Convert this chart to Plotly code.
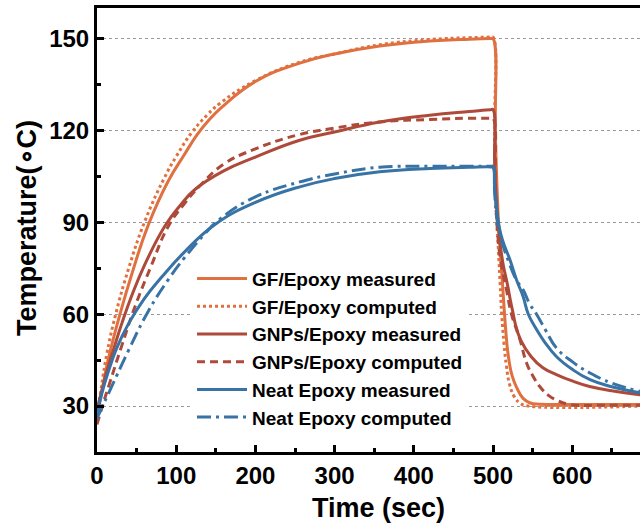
import plotly.graph_objects as go

# ---------------- data ----------------
gf_meas_t = [0, 7, 14, 29, 45, 65, 90, 110, 126, 140, 158, 200, 256, 300, 357, 420, 470, 497, 500,
             503, 506, 508, 511, 513, 516, 519, 524, 530, 538, 547, 560, 600, 686]
gf_meas_T = [27, 36, 45, 60, 74, 89.3, 103.5, 112, 118.5, 123, 127.7, 136, 142, 145, 147.6, 149.2, 149.8, 150, 150,
             118, 95, 85, 74, 66, 55, 47, 40, 36, 32.5, 31, 30.6, 30.5, 30.5]

gf_comp_t = [0, 6, 12, 23.6, 40, 60.6, 85, 100, 119.6, 140, 155, 200, 256, 300, 357, 420, 470, 497, 500,
             502, 504, 507, 509, 511, 514, 517, 521, 527, 535, 545, 686]
gf_comp_T = [26, 37, 46.5, 60, 75, 90.5, 104.5, 111.5, 119.3, 125.3, 128.8, 136.3, 142.3, 145, 148, 149.7, 150.3, 150.5, 150.5,
             118, 95, 80, 70, 60, 50, 43, 37, 33, 30.8, 30, 30]

gnp_meas_t = [0, 6, 12, 22.7, 32, 43.8, 60, 85, 105, 124, 160, 200, 256, 300, 357, 420, 470, 497, 500,
              502, 504, 506, 509, 513, 518, 522, 525.6, 528, 535, 548, 563, 580, 600, 622, 650, 686]
gnp_meas_T = [29, 35, 41, 50, 57.5, 66, 76, 88.5, 95.5, 100.8, 106.8, 111.3, 116.8, 119.5, 122.8, 125, 126.2, 126.8, 126.8,
              110, 98, 90.5, 83, 76, 70, 64.5, 60, 57, 51.5, 46.2, 42.5, 40.3, 38.2, 36.4, 35, 33.7]

gnp_comp_t = [0, 8, 16, 31, 48, 68, 89.6, 110, 132, 160, 200, 256, 300, 357, 420, 470, 497, 500,
              503, 506, 510, 517, 523.6, 534, 542.5, 550, 559, 570, 580, 597, 640, 686]
gnp_comp_T = [24, 31, 37.5, 49.5, 62.5, 75.5, 88.5, 96, 102.5, 109, 114, 118.7, 120.8, 122.8, 123.6, 124, 124, 124,
              100, 86, 77, 68, 59.8, 51.7, 44, 40, 36.4, 33.5, 32, 30.5, 30.3, 30.3]

neat_meas_t = [0, 6, 14, 25, 40, 60, 82, 110, 149, 200, 256, 300, 357, 420, 470, 497, 500,
               502, 504, 506.7, 510, 515, 521.5, 530, 538, 544.6, 555, 565, 580, 600, 622.5, 650, 686]
neat_meas_T = [27, 34, 41, 49, 57, 65.2, 72.2, 80.2, 89.3, 96.5, 101.6, 104.3, 106.5, 107.6, 108, 108.1, 108,
               102, 96, 90.2, 86, 82, 77.7, 71, 65.8, 60, 55, 51, 46.2, 42, 38.6, 36.3, 34.3]

neat_comp_t = [0, 7, 14.3, 25, 39.5, 64.8, 90, 110, 136, 155, 200, 256, 300, 357, 420, 470, 497, 500,
               502, 504, 507, 512, 520, 530, 538, 546, 555, 567, 580, 600, 622.5, 650, 686]
neat_comp_T = [26, 30, 34, 40, 48, 61, 71.3, 78.3, 86.2, 91, 98.3, 103.2, 105.8, 108, 108.3, 108.3, 108.3, 108.3,
               100, 93, 88, 83, 77, 71, 68, 63.5, 60, 54.5, 49, 44.5, 40.8, 37.5, 34.8]

series_names = ["GF/Epoxy measured", "GF/Epoxy computed",
                "GNPs/Epoxy measured", "GNPs/Epoxy computed",
                "Neat Epoxy measured", "Neat Epoxy computed"]

x_tick_vals = [0, 100, 200, 300, 400, 500, 600]
y_tick_vals = [30, 60, 90, 120, 150]

# ---------------- styling ----------------
C_GF = "#E0703F"
C_GNP = "#AE4A3A"
C_NEAT = "#3873A6"
FONT = "Arial, Liberation Sans, sans-serif"

series = [
    (gf_meas_t, gf_meas_T, C_GF, "solid"),
    (gf_comp_t, gf_comp_T, C_GF, "dot"),
    (gnp_meas_t, gnp_meas_T, C_GNP, "solid"),
    (gnp_comp_t, gnp_comp_T, C_GNP, "8px,5px"),
    (neat_meas_t, neat_meas_T, C_NEAT, "solid"),
    (neat_comp_t, neat_comp_T, C_NEAT, "14px,5px,3px,5px"),
]

fig = go.Figure()
for name, (tx, ty, col, dash) in zip(series_names, series):
    fig.add_trace(go.Scatter(
        x=tx, y=ty, mode="lines", name=name,
        line=dict(color=col, width=3, dash=dash, shape="spline", smoothing=1.3),
    ))

axis_font = dict(family=FONT, size=24, color="black", weight="bold")

fig.update_layout(
    width=640, height=525,
    margin=dict(l=97, r=0, t=8, b=73),
    paper_bgcolor="white", plot_bgcolor="white",
    showlegend=True,
    legend=dict(
        x=0.175, y=0.433, xanchor="left", yanchor="top",
        bgcolor="white", borderwidth=0,
        font=dict(family=FONT, size=19, color="black", weight="bold"),
        itemwidth=50, tracegroupgap=0,
    ),
    xaxis=dict(
        range=[0, 685.6], tickvals=x_tick_vals,
        showline=True, linecolor="black", linewidth=3, mirror=True,
        ticks="inside", ticklen=7, tickwidth=2.5, tickcolor="black",
        minor=dict(ticks="inside", ticklen=4, tickwidth=2.5, tickcolor="black", dtick=50, tick0=0),
        showgrid=False, zeroline=False,
        tickfont=axis_font,
    ),
    yaxis=dict(
        range=[15, 160], tickvals=y_tick_vals,
        showline=True, linecolor="black", linewidth=3,
        ticks="inside", ticklen=7, tickwidth=2.5, tickcolor="black",
        minor=dict(ticks="inside", ticklen=4, tickwidth=2.5, tickcolor="black", dtick=15, tick0=0),
        showgrid=True, gridcolor="#999999", gridwidth=1, griddash="dot",
        zeroline=False,
        tickfont=axis_font,
    ),
    annotations=[
        dict(text="Time (sec)", xref="paper", yref="paper", x=0.519, y=-0.126,
             xanchor="center", yanchor="middle", showarrow=False,
             font=dict(family=FONT, size=27, color="black", weight="bold")),
        dict(text="Temperature(∘C)", xref="paper", yref="paper", x=-0.129, y=0.5045,
             xanchor="center", yanchor="middle", showarrow=False, textangle=-90,
             font=dict(family=FONT, size=27, color="black", weight="bold")),
    ],
)

fig.write_html(
    "out.html",
    config={"displayModeBar": False},
    post_script="document.body.style.margin='0';document.body.style.overflow='hidden';",
)
